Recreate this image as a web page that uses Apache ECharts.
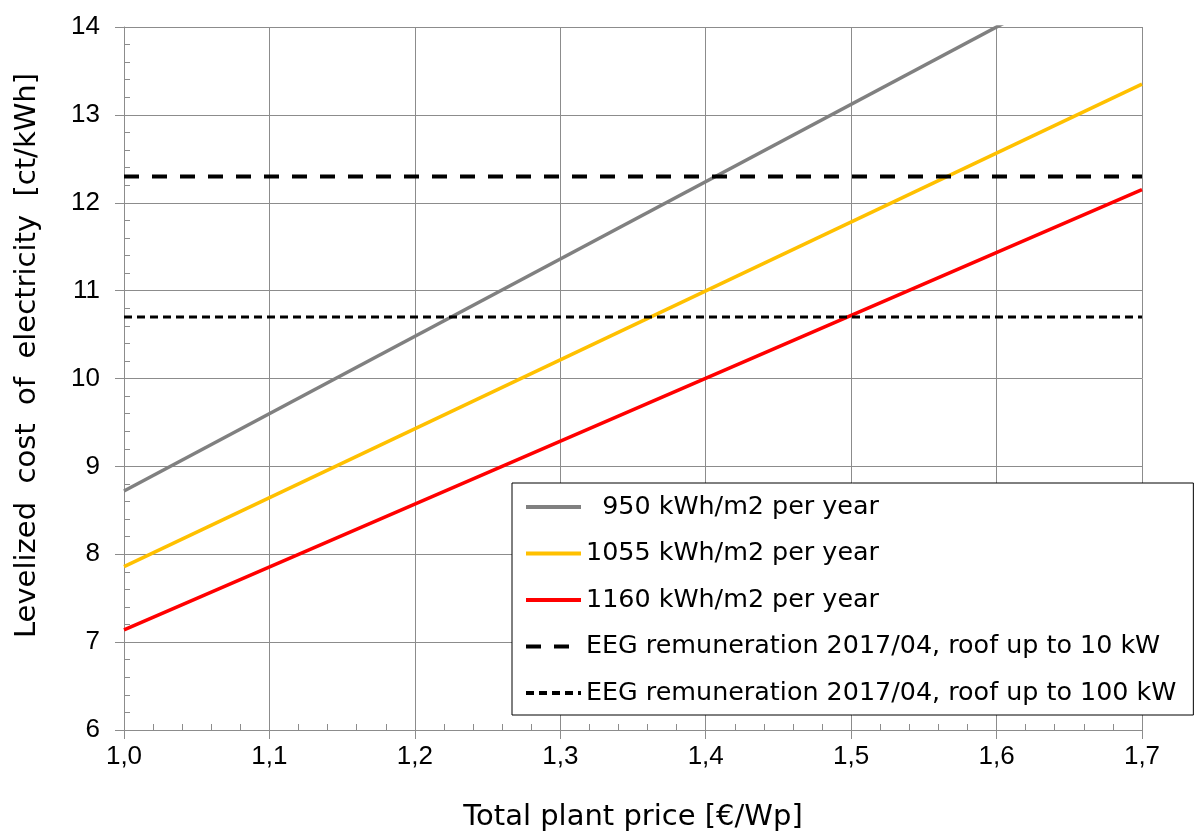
<!DOCTYPE html>
<html>
<head>
<meta charset="utf-8">
<script src="https://cdn.jsdelivr.net/npm/echarts@6/dist/echarts.min.js"></script>
<style>
  html, body { margin: 0; padding: 0; background: #fff; }
  #chart { width: 1198px; height: 837px; }
</style>
</head>
<body>
<div id="chart"></div>
<script>
  // total plant price [€/Wp] at the two ends of each line
  const prices = [1.0, 1.7]
  // levelized cost [ct/kWh] per irradiation level
  const cost950 = [8.72, 14.88]
  const cost1055 = [7.86, 13.35]
  const cost1160 = [7.14, 12.15]
  // EEG feed-in remuneration levels
  const eeg10 = [12.3, 12.3]
  const eeg100 = [10.7, 10.7]
  const seriesNames = [
    '  950 kWh/m2 per year',
    '1055 kWh/m2 per year',
    '1160 kWh/m2 per year',
    'EEG remuneration 2017/04, roof up to 10 kW',
    'EEG remuneration 2017/04, roof up to 100 kW'
  ]

  const font = 'Liberation Sans, Arial, sans-serif'
  const wideFont = 'DejaVu Sans, sans-serif'
  const gridGray = '#8c8c8c'
  const pairs = (ys) => prices.map((x, i) => [x, ys[i]])
  const fmt = (v) => v.toFixed(1).replace('.', ',')

  function lineSeries(name, ys, color, width, type) {
    return {
      name: name,
      type: 'line',
      data: pairs(ys),
      symbol: 'none',
      clip: true,
      lineStyle: { color: color, width: width, type: type },
      itemStyle: { color: color },
      emphasis: { disabled: true },
      animation: false
    }
  }

  let chartInstance = echarts.init(document.getElementById('chart'))
  const option = {
    backgroundColor: '#fff',
    animation: false,
    grid: { left: 124, right: 56, top: 27, bottom: 107 },
    xAxis: [
      {
        type: 'value', min: 1.0, max: 1.7, interval: 0.1,
        name: 'Total plant price [€/Wp]',
        nameLocation: 'middle', nameGap: 73,
        nameTextStyle: { fontFamily: wideFont, fontSize: 29, color: '#000' },
        axisLine: { onZero: false, lineStyle: { color: gridGray, width: 1 } },
        axisTick: { show: true, length: 9, lineStyle: { color: gridGray } },
        axisLabel: { formatter: fmt, fontFamily: font, fontSize: 26, color: '#000', margin: 14 },
        splitLine: { show: true, lineStyle: { color: gridGray, width: 1 } }
      },
      {
        // inner minor ticks
        type: 'value', min: 1.0, max: 1.7, interval: 0.02, position: 'bottom',
        axisLine: { show: false, onZero: false },
        axisTick: { show: true, inside: true, length: 6, lineStyle: { color: gridGray } },
        axisLabel: { show: false },
        splitLine: { show: false }
      }
    ],
    yAxis: [
      {
        type: 'value', min: 6, max: 14, interval: 1,
        name: 'Levelized  cost  of  electricity  [ct/kWh]',
        nameLocation: 'middle', nameGap: 82,
        nameTextStyle: { fontFamily: wideFont, fontSize: 29, color: '#000', padding: [0, 0, 0, 46] },
        axisLine: { show: true, onZero: false, lineStyle: { color: gridGray, width: 1 } },
        axisTick: { show: true, length: 9, lineStyle: { color: gridGray } },
        axisLabel: { fontFamily: font, fontSize: 26, color: '#000', margin: 24 },
        splitLine: { show: true, lineStyle: { color: gridGray, width: 1 } }
      },
      {
        type: 'value', min: 6, max: 14, interval: 0.2, position: 'left',
        axisLine: { show: false, onZero: false },
        axisTick: { show: true, inside: true, length: 6, lineStyle: { color: gridGray } },
        axisLabel: { show: false },
        splitLine: { show: false }
      }
    ],
    legend: {
      orient: 'vertical',
      left: 512, top: 483,
      backgroundColor: '#fff',
      borderColor: '#000', borderWidth: 1,
      padding: [10, 17, 8, 12],
      itemWidth: 55, itemHeight: 14, itemGap: 18.5,
      itemStyle: { opacity: 0, color: 'rgba(0,0,0,0)', borderWidth: 0 },
      lineStyle: { width: 4 },
      textStyle: { fontFamily: wideFont, fontSize: 25.4, color: '#000', lineHeight: 28 },
      data: seriesNames
    },
    series: [
      lineSeries(seriesNames[0], cost950, '#808080', 3.5, 'solid'),
      lineSeries(seriesNames[1], cost1055, '#ffc000', 3.5, 'solid'),
      lineSeries(seriesNames[2], cost1160, '#ff0000', 3.5, 'solid'),
      lineSeries(seriesNames[3], eeg10, '#000', 4, [15, 13]),
      lineSeries(seriesNames[4], eeg100, '#000', 3, [8, 5])
    ]
  }
  chartInstance.setOption(option)
</script>
</body>
</html>
